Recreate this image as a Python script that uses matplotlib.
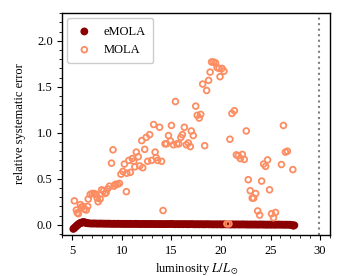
import matplotlib
matplotlib.use("Agg")
import matplotlib.pyplot as plt
from matplotlib.ticker import AutoMinorLocator

plt.rcParams['font.family'] = ['Liberation Serif', 'DejaVu Serif']
plt.rcParams['mathtext.fontset'] = 'stix'

# MOLA: luminosity and relative systematic error
lum_mola = [5.2, 5.4, 5.5, 5.6, 5.8, 5.9, 6.07, 6.2, 6.4, 6.55, 6.6, 6.8, 7.0, 7.2,
            7.4, 7.5, 7.6, 7.8, 7.95, 8.15, 8.3, 8.4, 8.55, 8.75, 8.95, 9.1, 9.2,
            9.35, 9.55, 9.75, 9.9, 10.1, 10.25, 10.45, 10.5, 10.7, 10.85, 11.05,
            11.2, 11.3, 11.45, 11.65, 11.8, 12.0, 12.1, 12.3, 12.45, 12.6, 12.8,
            13.0, 13.2, 13.35, 13.45, 13.6, 13.8, 14.0, 14.15, 14.35, 14.5, 14.7,
            14.9, 15.0, 15.2, 15.4, 15.55, 15.75, 15.95, 16.1, 16.3, 16.5, 16.7,
            16.9, 17.0, 17.2, 17.45, 17.6, 17.8, 17.95, 18.15, 18.35, 18.55,
            18.75, 18.9, 19.05, 19.25, 19.45, 19.6, 19.8, 19.9, 20.1, 20.3, 20.6,
            20.8, 20.9, 21.1, 21.35, 21.55, 21.75, 21.95, 22.15, 22.35, 22.55,
            22.75, 22.95, 23.15, 23.3, 23.5, 23.7, 23.9, 24.1, 24.3, 24.5, 24.7,
            24.9, 25.1, 25.3, 25.5, 26.1, 26.3, 26.5, 26.7, 27.25]
err_mola = [0.26, 0.16, 0.13, 0.12, 0.22, 0.19, 0.2, 0.17, 0.16, 0.2, 0.28, 0.33,
            0.34, 0.34, 0.33, 0.29, 0.25, 0.28, 0.38, 0.37, 0.34, 0.35, 0.39, 0.42,
            0.67, 0.815, 0.42, 0.44, 0.44, 0.45, 0.55, 0.58, 0.66, 0.36, 0.56,
            0.70, 0.57, 0.72, 0.69, 0.63, 0.79, 0.74, 0.64, 0.915, 0.62, 0.82,
            0.95, 0.69, 0.98, 0.70, 1.09, 0.79, 0.73, 0.70, 1.06, 0.69, 0.155,
            0.88, 0.88, 0.97, 0.91, 1.08, 0.87, 1.34, 0.88, 0.88, 0.95, 0.98,
            1.06, 0.87, 0.89, 0.85, 1.02, 0.97, 1.29, 1.19, 1.16, 1.20, 1.53,
            0.86, 1.46, 1.57, 1.66, 1.77, 1.77, 1.76, 1.71, 1.70, 1.61, 1.70,
            1.67, 0.01, 0.01, 0.93, 1.21, 1.24, 0.76, 0.75, 0.72, 0.765, 0.71,
            1.02, 0.49, 0.37, 0.29, 0.29, 0.34, 0.15, 0.105, 0.475, 0.66, 0.635,
            0.705, 0.38, 0.12, 0.076, 0.134, 0.655, 1.08, 0.79, 0.80, 0.60]

# eMOLA: dense band close to zero
lum_emola = [5.1, 5.2, 5.3, 5.4, 5.5, 5.6, 5.7, 5.8, 5.9, 6.0, 6.1, 6.2, 6.3, 6.4,
             6.5, 6.6, 6.8, 7.0, 7.2, 7.4, 7.6, 7.8, 8.0, 8.2, 8.4, 8.6, 8.8,
             9.0, 9.2, 9.4, 9.6, 9.8, 10.0, 10.2, 10.4, 10.6, 10.8, 11.0, 11.2,
             11.4, 11.6, 11.8, 12.0, 12.2, 12.4, 12.6, 12.8, 13.0, 13.2, 13.4,
             13.6, 13.8, 14.0, 14.2, 14.4, 14.6, 14.8, 15.0, 15.2, 15.4, 15.6,
             15.8, 16.0, 16.2, 16.4, 16.6, 16.8, 17.0, 17.2, 17.4, 17.6, 17.8,
             18.0, 18.2, 18.4, 18.6, 18.8, 19.0, 19.2, 19.4, 19.6, 19.8, 20.0,
             20.2, 20.4, 20.6, 20.8, 21.0, 21.2, 21.4, 21.6, 21.8, 22.0, 22.2,
             22.4, 22.6, 22.8, 23.0, 23.2, 23.4, 23.6, 23.8, 24.0, 24.2, 24.4,
             24.6, 24.8, 25.0, 25.2, 25.4, 25.6, 25.8, 26.0, 26.2, 26.4, 26.6,
             26.8, 27.0, 27.2, 27.3, 27.4]
err_emola = [-0.045, -0.035, -0.025, -0.015, -0.005, 0.005, 0.012, 0.018, 0.022,
             0.026, 0.028, 0.027, 0.024, 0.021, 0.018, 0.016, 0.014, 0.013,
             0.014, 0.013, 0.012, 0.013, 0.012, 0.012, 0.011, 0.012, 0.011,
             0.010, 0.011, 0.010, 0.011, 0.010, 0.010, 0.009, 0.010, 0.009,
             0.010, 0.009, 0.009, 0.010, 0.009, 0.008, 0.009, 0.008, 0.009,
             0.008, 0.008, 0.009, 0.008, 0.007, 0.008, 0.007, 0.008, 0.007,
             0.007, 0.008, 0.007, 0.009, 0.007, 0.006, 0.007, 0.006, 0.007,
             0.006, 0.007, 0.006, 0.006, 0.007, 0.006, 0.005, 0.006, 0.005,
             0.006, 0.005, 0.005, 0.006, 0.005, 0.005, 0.004, 0.005, 0.004,
             0.005, 0.004, 0.004, 0.005, 0.004, 0.004, 0.003, 0.004, 0.003,
             0.004, 0.003, 0.003, 0.004, 0.003, 0.003, 0.002, 0.003, 0.002,
             0.003, 0.002, 0.002, 0.003, 0.002, 0.002, 0.001, 0.002, 0.001,
             0.002, 0.001, 0.001, 0.002, 0.001, 0.001, 0.0, 0.001, 0.0, 0.0,
             -0.004, -0.01, -0.006]

fig = plt.figure(figsize=(3.47, 2.76), dpi=100)
ax = fig.add_axes([0.18, 0.149, 0.771, 0.803])

ax.scatter(lum_emola, err_emola, s=32, color='#8b0000', edgecolors='none',
           label='eMOLA', zorder=3)
ax.scatter(lum_mola, err_mola, s=17, facecolors='none', edgecolors='#fc8d62',
           linewidths=1.3, label='MOLA', zorder=4)

ax.axvline(29.9, color='gray', linestyle=':', linewidth=1.5)

ax.set_xlim(4, 31)
ax.set_ylim(-0.11, 2.3)
ax.set_xticks([5, 10, 15, 20, 25, 30])
ax.set_yticks([0.0, 0.5, 1.0, 1.5, 2.0])
ax.xaxis.set_minor_locator(AutoMinorLocator(5))
ax.yaxis.set_minor_locator(AutoMinorLocator(5))
ax.tick_params(which='major', length=3.5, width=0.8, labelsize=9)
ax.tick_params(which='minor', length=2, width=0.6)
for sp in ax.spines.values():
    sp.set_linewidth(1.0)

ax.set_xlabel(r'luminosity $L/L_\odot$', fontsize=9, labelpad=3)
ax.set_ylabel('relative systematic error', fontsize=9, labelpad=8)

ax.legend(loc='upper left', fontsize=9, frameon=True, handlelength=1.5,
          handletextpad=0.8, borderpad=0.6, framealpha=1, edgecolor='#cccccc',
          fancybox=True, borderaxespad=0.4)

fig.savefig('out.png', dpi=100)
